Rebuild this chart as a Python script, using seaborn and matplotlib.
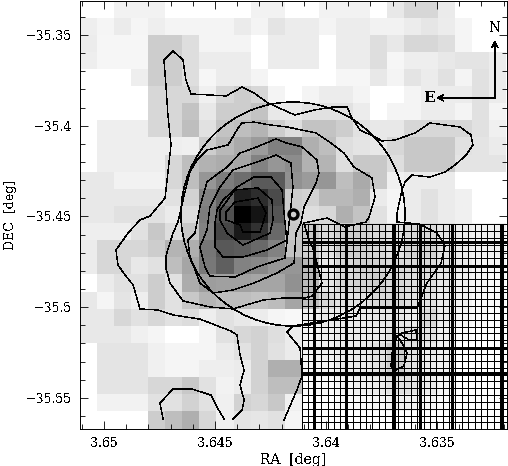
import numpy as np
import pandas as pd
import seaborn as sns
import matplotlib
matplotlib.use("Agg")
import matplotlib.pyplot as plt
from matplotlib.patches import Ellipse

# Grey level of every map cell (0 black, 255 white), top row first
grey_rows = [
    [255,255,242,242,242,255,255,255,255,255,242,242,255,255,242,242,242,255,232,215,215,235,255,255,255],
    [238,245,235,245,238,244,244,244,244,235,244,228,236,236,244,236,236,242,242,236,230,236,245,255,255],
    [236,246,246,246,205,205,222,244,244,244,255,236,236,236,255,236,236,222,232,215,215,222,245,255,255],
    [238,246,246,246,205,205,222,236,236,236,255,236,236,236,255,236,236,222,246,238,238,232,228,228,236],
    [255,255,255,238,205,205,222,246,236,236,244,255,255,255,255,246,246,232,244,228,236,225,244,225,236],
    [255,255,255,255,215,215,215,240,215,205,215,244,255,244,236,236,244,255,255,244,236,236,236,225,236],
    [255,255,255,255,215,215,195,232,205,205,195,232,232,225,225,225,236,255,244,244,236,236,244,225,244],
    [255,238,238,238,215,215,190,225,195,190,180,205,222,195,195,205,225,232,232,215,215,215,215,225,240],
    [255,238,238,238,238,238,240,205,185,170,155,128,128,175,190,222,228,232,215,200,200,200,225,228,235],
    [255,238,238,238,238,215,190,178,172,165,130,150,140,178,180,222,200,200,222,200,200,200,228,228,228],
    [232,232,242,242,242,215,190,150,125,110,90,90,145,155,150,190,170,200,240,235,235,235,255,255,255],
    [232,232,232,232,232,225,210,130,100,30,45,75,205,210,185,185,175,235,245,235,225,235,240,255,255],
    [232,232,225,225,225,235,220,125,80,0,20,85,205,222,215,175,195,225,245,235,225,235,240,255,255],
    [238,238,238,225,200,222,200,130,70,25,50,105,200,200,215,205,205,215,225,215,215,225,235,240,240],
    [236,215,215,215,205,180,175,118,88,92,105,130,195,205,225,205,205,215,225,210,210,225,235,240,240],
    [236,215,215,232,225,190,165,120,95,130,135,150,150,185,235,215,205,210,215,215,215,225,235,245,245],
    [255,235,225,225,205,225,172,157,160,160,165,165,145,185,230,215,210,205,215,220,220,230,240,245,250],
    [232,245,228,238,205,225,200,180,190,190,195,188,165,190,215,225,225,215,215,225,225,235,240,250,250],
    [232,232,215,225,215,225,220,238,225,232,236,245,248,240,235,235,235,230,230,235,215,235,245,250,255],
    [232,232,232,240,245,255,255,245,225,215,210,222,235,245,240,235,235,235,225,220,225,240,250,255,255],
    [255,228,228,228,240,245,245,245,235,225,210,225,235,240,240,235,235,225,205,225,235,240,255,255,255],
    [255,228,228,228,240,245,245,238,238,235,210,175,175,245,245,235,235,225,205,225,235,240,255,255,255],
    [255,228,228,228,215,215,200,225,242,235,210,190,190,250,250,245,240,235,225,225,235,245,255,255,255],
    [255,242,242,242,225,225,210,225,240,210,215,200,240,255,255,250,250,245,240,240,245,250,255,255,255],
    [255,255,255,255,205,190,175,215,240,228,230,225,245,255,255,255,255,255,255,255,255,255,255,255,255],
]

# Contour lines in RA / DEC
outer_ra = [3.64419,3.64378,3.64369,3.64387,3.64369,3.64387,3.64401,3.64428,3.64568,3.64685,3.64757,3.64838,3.64856,3.64869,3.64905,3.64937,3.64946,3.64892,3.64838,3.64793,3.64725,3.64716,3.64698,3.64712,3.64721,3.64730,3.64689,3.64644,3.64631,3.64608,3.64450,3.64378,3.64324,3.64261,3.64140,3.64050,3.63969,3.63905,3.63883,3.63847,3.63779,3.63748,3.63689,3.63599,3.63532,3.63464,3.63396,3.63347,3.63338,3.63369,3.63419,3.63464,3.63532,3.63613,3.63644,3.63658,3.63680,3.63680,3.63581,3.63500,3.63464,3.63482,3.63545,3.63590,3.63775,3.63847,3.63865,3.63951,3.64149,3.64176,3.64117,3.64108,3.64131,3.64189]
outer_dec = [-35.5617,-35.5567,-35.5512,-35.5429,-35.5347,-35.5264,-35.5154,-35.5132,-35.5066,-35.5044,-35.5016,-35.5010,-35.4933,-35.4878,-35.4823,-35.4768,-35.4685,-35.4592,-35.4520,-35.4498,-35.4399,-35.4299,-35.4106,-35.3941,-35.3776,-35.3638,-35.3588,-35.3638,-35.3748,-35.3825,-35.3836,-35.3787,-35.3820,-35.3875,-35.3941,-35.3913,-35.3897,-35.3897,-35.3958,-35.4024,-35.4062,-35.4084,-35.4079,-35.4040,-35.3985,-35.3996,-35.4007,-35.4051,-35.4106,-35.4162,-35.4217,-35.4255,-35.4283,-35.4272,-35.4310,-35.4354,-35.4481,-35.4531,-35.4542,-35.4592,-35.4663,-35.4757,-35.4867,-35.5005,-35.5005,-35.5005,-35.5049,-35.5066,-35.5104,-35.5137,-35.5225,-35.5380,-35.5457,-35.5622]

south_ra = [3.64734,3.64748,3.64689,3.64604,3.64518,3.64486,3.64459]
south_dec = [-35.5617,-35.5529,-35.5451,-35.5451,-35.5485,-35.5562,-35.5617]

level2_ra = [3.64324,3.64252,3.64176,3.64045,3.63978,3.63919,3.63874,3.63793,3.63779,3.63806,3.63820,3.63914,3.63996,3.64099,3.64077,3.64059,3.64018,3.64063,3.64099,3.64194,3.64284,3.64419,3.64523,3.64644,3.64703,3.64721,3.64721,3.64689,3.64667,3.64644,3.64613,3.64581,3.64536,3.64441,3.64396,3.64378,3.64324]
level2_dec = [-35.3980,-35.3996,-35.4007,-35.4040,-35.4095,-35.4151,-35.4228,-35.4288,-35.4393,-35.4503,-35.4531,-35.4558,-35.4509,-35.4536,-35.4630,-35.4674,-35.4867,-35.4939,-35.4950,-35.4950,-35.4961,-35.5010,-35.4999,-35.4966,-35.4867,-35.4784,-35.4718,-35.4592,-35.4531,-35.4410,-35.4255,-35.4189,-35.4134,-35.4106,-35.4013,-35.3985,-35.3980]

level3_ra = [3.64324,3.64225,3.64180,3.64108,3.64041,3.64032,3.64045,3.64099,3.64113,3.64135,3.64144,3.64221,3.64324,3.64419,3.64509,3.64568,3.64613,3.64622,3.64590,3.64568,3.64536,3.64446,3.64387,3.64324]
level3_dec = [-35.4123,-35.4073,-35.4095,-35.4117,-35.4189,-35.4261,-35.4316,-35.4448,-35.4536,-35.4592,-35.4757,-35.4812,-35.4867,-35.4906,-35.4922,-35.4867,-35.4718,-35.4630,-35.4592,-35.4448,-35.4310,-35.4228,-35.4151,-35.4123]

level4_ra = [3.64324,3.64225,3.64158,3.64149,3.64171,3.64185,3.64311,3.64410,3.64523,3.64545,3.64568,3.64536,3.64523,3.64477,3.64419,3.64324]
level4_dec = [-35.4206,-35.4162,-35.4206,-35.4338,-35.4592,-35.4729,-35.4779,-35.4834,-35.4829,-35.4779,-35.4669,-35.4575,-35.4448,-35.4338,-35.4244,-35.4206]

level5_ra = [3.64324,3.64248,3.64198,3.64189,3.64180,3.64176,3.64266,3.64374,3.64464,3.64500,3.64500,3.64491,3.64464,3.64401,3.64324]
level5_dec = [-35.4283,-35.4283,-35.4354,-35.4481,-35.4592,-35.4630,-35.4685,-35.4724,-35.4724,-35.4669,-35.4536,-35.4465,-35.4410,-35.4338,-35.4283]

level6_ra = [3.64477,3.64410,3.64306,3.64243,3.64239,3.64252,3.64374,3.64446,3.64477,3.64477]
level6_dec = [-35.4465,-35.4354,-35.4343,-35.4410,-35.4520,-35.4592,-35.4658,-35.4592,-35.4520,-35.4465]

level7_ra = [3.64450,3.64410,3.64306,3.64270,3.64297,3.64374,3.64387,3.64450,3.64450]
level7_dec = [-35.4476,-35.4421,-35.4399,-35.4481,-35.4586,-35.4586,-35.4547,-35.4520,-35.4476]

loop_ra = [3.63680,3.63658,3.63595,3.63590,3.63626,3.63662,3.63680]
loop_dec = [-35.5159,-35.5143,-35.5126,-35.5181,-35.5181,-35.5154,-35.5159]

blob_ra = [3.63680,3.63703,3.63707,3.63685,3.63649,3.63635,3.63658,3.63680]
blob_dec = [-35.5159,-35.5253,-35.5325,-35.5347,-35.5325,-35.5253,-35.5198,-35.5159]

contours = [
    (outer_ra, outer_dec), (south_ra, south_dec), (level2_ra, level2_dec),
    (level3_ra, level3_dec), (level4_ra, level4_dec), (level5_ra, level5_dec),
    (level6_ra, level6_dec), (level7_ra, level7_dec), (loop_ra, loop_dec),
    (blob_ra, blob_dec),
]

# Source position and the big circle round it
source_ra = 3.64149
source_dec = -35.4487
circle_ra_radius = 0.005045
circle_dec_radius = 0.06174

# Ticks
ra_major = [3.65, 3.645, 3.64, 3.635]
ra_labels = ["3.65", "3.645", "3.64", "3.635"]
dec_major = [-35.35, -35.4, -35.45, -35.5, -35.55]
dec_labels = ["\u221235.35", "\u221235.4", "\u221235.45", "\u221235.5", "\u221235.55"]

# Masked corner of the map, drawn as a fine grid
mask_ra_step = 0.000288
mask_dec_step = 0.00377
mask_ra_bold = [3.64054, 3.63910, 3.63694, 3.63577, 3.63432, 3.63207]
mask_dec_bold = [-35.4641, -35.4773, -35.5225, -35.5363]

# Axis limits
ra_left, ra_right = 3.65108, 3.63187
dec_top, dec_bottom = -35.3310, -35.5669
mask_ra_start, mask_dec_start = 3.64108, -35.4542

sns.set_style("ticks")
plt.rcParams["font.family"] = ["DejaVu Serif"]
plt.rcParams["text.antialiased"] = False
plt.rcParams["text.color"] = "black"

fig = plt.figure(figsize=(5.08, 4.66), dpi=100)
rect = [80 / 508, 1 - 428.5 / 466, 426.5 / 508, 428 / 466]

# Grey map first
ax_map = fig.add_axes(rect)
sns.heatmap(pd.DataFrame(grey_rows), ax=ax_map, cmap="gray", vmin=0, vmax=255,
            cbar=False, xticklabels=False, yticklabels=False)
ax_map.tick_params(length=0)

# Sky axes on top, everything else is drawn here
ax = fig.add_axes(rect, facecolor="none")
ax.set_xlim(ra_left, ra_right)
ax.set_ylim(dec_bottom, dec_top)

# Masked corner
mask_ra = np.arange(mask_ra_start, ra_right, -mask_ra_step)
mask_dec = np.arange(mask_dec_start, dec_bottom, -mask_dec_step)
ax.vlines(mask_ra, dec_bottom, mask_dec_start, color="black", lw=0.6, antialiased=False)
ax.hlines(mask_dec, mask_ra_start, ra_right, color="black", lw=0.6, antialiased=False)
ax.vlines(mask_ra_bold, dec_bottom, mask_dec_start, color="black", lw=1.0, antialiased=False)
ax.hlines(mask_dec_bold, mask_ra_start, ra_right, color="black", lw=1.0, antialiased=False)

# Contours
for c_ra, c_dec in contours:
    ax.plot(c_ra, c_dec, color="black", lw=0.3, antialiased=False)

circle = Ellipse((source_ra, source_dec), 2 * circle_ra_radius, 2 * circle_dec_radius,
                 fill=False, edgecolor="black", lw=0.35, antialiased=False)
ax.add_patch(circle)
ax.plot([source_ra], [source_dec], marker="o", ms=6.5, mfc="none", mec="black", mew=2.4)

# North / east arrows
ax.annotate("", xy=(3.63239, -35.3533), xytext=(3.63239, -35.3850),
            arrowprops=dict(arrowstyle="->", color="black", lw=0.4, shrinkA=0, shrinkB=0,
                            mutation_scale=11, antialiased=False))
ax.annotate("", xy=(3.63500, -35.3847), xytext=(3.63239, -35.3847),
            arrowprops=dict(arrowstyle="->", color="black", lw=0.4, shrinkA=0, shrinkB=0,
                            mutation_scale=11, antialiased=False))
ax.text(3.63239, -35.3461, "N", ha="center", va="center", fontsize=10)
ax.text(3.63532, -35.3847, "E", ha="center", va="center", fontsize=11, fontweight="bold")

# Ticks on all four sides, pointing in
ax.set_xticks(ra_major)
ax.set_xticklabels(ra_labels)
ax.set_yticks(dec_major)
ax.set_yticklabels(dec_labels)
ax.set_xticks(np.arange(3.651, 3.6315, -0.001), minor=True)
ax.set_yticks(np.arange(-35.34, -35.57, -0.01), minor=True)
ax.tick_params(which="major", direction="in", length=6, width=0.6, top=True, right=True,
               labelsize=9, pad=6, color="black", labelcolor="black")
ax.tick_params(which="minor", direction="in", length=3.5, width=0.6, top=True, right=True,
               color="black")
for spine in ax.spines.values():
    spine.set_visible(True)
    spine.set_color("black")
    spine.set_linewidth(0.7)

ax.set_xlabel("RA  [deg]", fontsize=10, labelpad=2, color="black")
ax.set_ylabel("DEC  [deg]", fontsize=9, labelpad=6, color="black")

fig.savefig("out.png", dpi=100)
